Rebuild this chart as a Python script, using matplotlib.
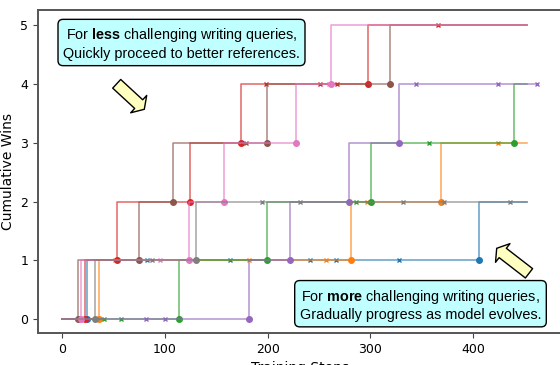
import matplotlib.pyplot as plt

plt.rcParams['font.family'] = 'DejaVu Sans'
plt.rcParams['mathtext.fontset'] = 'custom'
plt.rcParams['mathtext.rm'] = 'Liberation Sans'
plt.rcParams['mathtext.bf'] = 'Liberation Sans:bold'

END_STEP = 452

# comparisons per query: training step and whether the new output won (1) or lost (0)
blue_steps = [24, 83, 163, 241, 267, 328, 406]
blue_wins = [1, 0, 0, 0, 0, 0, 1]

orange_steps = [36, 52, 182, 257, 281, 297, 369, 424]
orange_wins = [1, 0, 0, 0, 1, 0, 1, 0]

green_steps = [41, 57, 114, 199, 286, 301, 357, 440]
green_wins = [0, 0, 1, 1, 0, 1, 0, 1]

red_steps = [22, 54, 125, 174, 198, 251, 268, 298, 366]
red_wins = [1, 1, 1, 1, 0, 0, 0, 1, 0]

purple_steps = [82, 100, 182, 222, 279, 328, 344, 424, 462]
purple_wins = [0, 0, 1, 1, 1, 1, 0, 0, 0]

brown_steps = [16, 75, 108, 179, 199, 319]
brown_wins = [1, 1, 1, 0, 1, 1]

pink_steps = [19, 95, 124, 158, 228, 260, 262]
pink_wins = [1, 0, 1, 1, 1, 0, 1]

gray_steps = [32, 88, 130, 195, 232, 332, 372, 436]
gray_wins = [1, 0, 1, 0, 0, 0, 0, 0]

runs = [
    (blue_steps, blue_wins, 'tab:blue'),
    (orange_steps, orange_wins, 'tab:orange'),
    (green_steps, green_wins, 'tab:green'),
    (red_steps, red_wins, 'tab:red'),
    (purple_steps, purple_wins, 'tab:purple'),
    (brown_steps, brown_wins, 'tab:brown'),
    (pink_steps, pink_wins, 'tab:pink'),
    (gray_steps, gray_wins, 'tab:gray'),
]


def draw_run(ax, steps, wins, color):
    xs, ys, before = [0], [0], []
    c = 0
    for s, w in zip(steps, wins):
        before.append(c)
        c += w
        xs.append(s)
        ys.append(c)
    xs.append(max(END_STEP, steps[-1]))
    ys.append(c)
    ax.plot(xs, ys, drawstyle='steps-post', color=color, lw=1.1, alpha=0.7)
    wx = [s for s, w in zip(steps, wins) if w]
    wy = [b for b, w in zip(before, wins) if w]
    lx = [s for s, w in zip(steps, wins) if not w]
    ly = [b for b, w in zip(before, wins) if not w]
    ax.plot(wx, wy, 'o', color=color, ms=4)
    ax.plot(lx, ly, 'x', color=color, ms=3.5, mew=1)


fig = plt.figure(figsize=(5.6, 3.65), dpi=100)
ax = fig.add_axes([38 / 560, 32 / 365, 524 / 560, 323 / 365])

for steps, wins, color in runs:
    draw_run(ax, steps, wins, color)

ax.set_xlim(-23.3, 486.4)
ax.set_ylim(-0.233, 5.255)
ax.set_xticks([0, 100, 200, 300, 400])
ax.set_yticks([0, 1, 2, 3, 4, 5])
ax.tick_params(labelsize=9, color='#444444')
for sp in ax.spines.values():
    sp.set_color('#555555')
    sp.set_linewidth(1.4)
ax.set_xlabel('Training Steps', fontsize=10)
ax.set_ylabel('Cumulative Wins', fontsize=10)

box = dict(boxstyle='round,pad=0.35', fc='#c0ffff', ec='black', lw=1)
fig.text(181.5 / 560, 1 - 43.5 / 365,
         'For $\\bf{less}$ challenging writing queries,\nQuickly proceed to better references.',
         ha='center', va='center', fontsize=10.4, family='Liberation Sans', bbox=box)
fig.text(420.5 / 560, 1 - 304.7 / 365,
         'For $\\bf{more}$ challenging writing queries,\nGradually progress as model evolves.',
         ha='center', va='center', fontsize=10.4, family='Liberation Sans', bbox=box)

arrow = dict(arrowstyle='simple,head_length=0.55,head_width=1.7,tail_width=0.85',
             fc='#ffffc0', ec='black', lw=1, shrinkA=0, shrinkB=0, mutation_scale=10)
ax.annotate('', xy=(144.3, 365 - 109.3), xycoords='figure pixels',
            xytext=(116.7, 365 - 83.8), textcoords='figure pixels', arrowprops=arrow)
ax.annotate('', xy=(496.7, 365 - 248.3), xycoords='figure pixels',
            xytext=(529, 365 - 273.3), textcoords='figure pixels', arrowprops=arrow)

fig.savefig('out.png', dpi=100)
